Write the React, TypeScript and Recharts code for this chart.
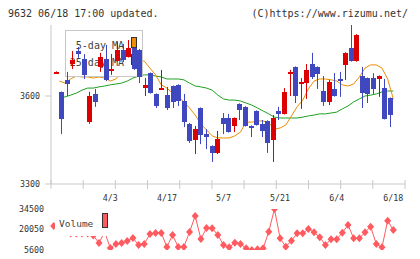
import React from 'react';
import { ComposedChart, LineChart, Line, Bar, XAxis, YAxis } from 'recharts';

// ---- data ----
const openP = [3679, 3614, 3655, 3709, 3753, 3726, 3511, 3607, 3699, 3726, 3685, 3719, 3757, 3733, 3764, 3757, 3627, 3678, 3607, 3624, 3603, 3634, 3638, 3583, 3505, 3450, 3559, 3470, 3430, 3406, 3525, 3525, 3498, 3573, 3563, 3498, 3549, 3505, 3515, 3450, 3549, 3539, 3675, 3699, 3641, 3644, 3709, 3699, 3617, 3580, 3624, 3658, 3706, 3764, 3719, 3668, 3661, 3661, 3658, 3627, 3593];
const highP = [3684, 3615, 3682, 3753, 3767, 3743, 3614, 3624, 3747, 3774, 3743, 3784, 3777, 3791, 3766, 3760, 3661, 3680, 3609, 3689, 3631, 3636, 3640, 3607, 3508, 3498, 3561, 3487, 3432, 3481, 3542, 3539, 3527, 3575, 3565, 3500, 3551, 3518, 3517, 3535, 3563, 3627, 3689, 3701, 3661, 3709, 3747, 3701, 3668, 3655, 3678, 3682, 3749, 3842, 3811, 3699, 3663, 3678, 3670, 3658, 3595];
const lowP = [3677, 3470, 3600, 3692, 3730, 3658, 3505, 3563, 3682, 3651, 3672, 3717, 3716, 3731, 3689, 3644, 3600, 3608, 3559, 3622, 3552, 3559, 3566, 3494, 3440, 3402, 3436, 3419, 3375, 3402, 3470, 3475, 3477, 3518, 3496, 3460, 3499, 3460, 3406, 3375, 3518, 3537, 3600, 3576, 3556, 3590, 3658, 3624, 3566, 3569, 3598, 3597, 3655, 3717, 3717, 3559, 3576, 3607, 3597, 3520, 3494];
const closeP = [3682, 3522, 3641, 3723, 3743, 3672, 3600, 3580, 3733, 3655, 3692, 3757, 3723, 3764, 3692, 3665, 3638, 3610, 3566, 3627, 3559, 3580, 3583, 3511, 3447, 3487, 3467, 3460, 3406, 3453, 3505, 3477, 3525, 3552, 3498, 3491, 3501, 3481, 3440, 3525, 3539, 3614, 3682, 3600, 3648, 3689, 3665, 3675, 3580, 3648, 3600, 3651, 3747, 3719, 3808, 3610, 3607, 3624, 3668, 3522, 3535];
const ma5 = [null, 3651, 3644, 3658, 3668, 3665, 3665, 3661, 3665, 3661, 3651, 3658, 3682, 3702, 3716, 3723, 3719, 3695, 3672, 3638, 3627, 3610, 3597, 3580, 3559, 3535, 3505, 3484, 3464, 3457, 3457, 3457, 3464, 3477, 3511, 3511, 3515, 3515, 3508, 3487, 3491, 3501, 3532, 3563, 3586, 3624, 3651, 3658, 3658, 3655, 3651, 3638, 3634, 3641, 3665, 3695, 3706, 3706, 3695, 3658, 3590];
const ma25 = [null, 3590, 3597, 3603, 3610, 3620, 3627, 3627, 3631, 3634, 3638, 3641, 3644, 3651, 3661, 3668, 3672, 3672, 3668, 3665, 3658, 3658, 3658, 3655, 3644, 3634, 3631, 3627, 3620, 3603, 3590, 3586, 3586, 3583, 3576, 3569, 3559, 3549, 3539, 3528, 3525, 3525, 3525, 3525, 3528, 3532, 3535, 3539, 3539, 3542, 3545, 3556, 3566, 3580, 3590, 3600, 3603, 3607, 3614, 3617, 3617];
const volume = [22500, 21100, 19700, 17230, 17230, 17230, 17230, 15820, 10530, 18290, 7010, 9830, 10530, 11950, 14060, 9130, 9830, 16880, 17590, 17590, 7720, 16180, 7720, 7720, 18290, 29570, 13360, 21110, 20900, 16180, 9130, 7500, 10750, 9830, 6800, 5600, 6090, 6800, 18500, 34500, 13850, 7930, 12160, 17380, 17380, 20400, 18080, 14550, 9130, 13150, 13150, 17800, 23230, 13850, 13850, 18080, 22030, 9830, 7500, 26260, 19700];

const labelIdx = [10, 20, 30, 40, 50, 60];
const labelText = ['4/3', '4/17', '5/7', '5/21', '6/4', '6/18'];
const priceDomain = [3300, 3842];
const priceTicks = [3300, 3600];
const volDomain = [5600, 34500];
const volTicks = [5600, 20050, 34500];
// main x axis (in day-index units) and its evenly spaced tick marks
const xDomain = [-0.985, 62.6];
const gridTicks = [-0.985, 4.796, 10.576, 16.357, 22.137, 27.918, 33.698, 39.479, 45.259, 51.04, 56.82, 62.6];

const rows = openP.map((o, i) => ({
  i,
  o,
  h: highP[i],
  l: lowP[i],
  c: closeP[i],
  ma5: ma5[i],
  ma25: ma25[i],
  v: volume[i],
}));

// ---- styles ----
const MONO = "'DejaVu Sans Mono', monospace";
const RED = '#dd0000';
const BLUE = '#4048c0';
const ORANGE = '#f08c00';
const GREEN = '#1ea01e';
const VOLRED = '#ff5a5f';
const AXIS = '#c8c8c8';
const TXT = '#333333';
const XPAD = { left: 2.7, right: 11.7 };

function Candle(props: any) {
  const { x, y, width, height, payload } = props;
  if (x == null || y == null || !payload) return null;
  const { o, h, l, c } = payload;
  const top = Math.min(y, y + height);
  const bot = Math.max(y, y + height);
  const span = h - l;
  const py = (v: number) => (span > 0 ? top + ((h - v) / span) * (bot - top) : top);
  const cx = Math.round(x + width / 2 - 0.5) + 0.5;
  const color = c > o ? RED : BLUE;
  const bt = Math.round(py(Math.max(o, c)));
  let bh = Math.round(py(Math.min(o, c))) - bt;
  if (bh < 2) bh = 2;
  return (
    <g>
      <line x1={cx} x2={cx} y1={py(h)} y2={py(l)} stroke={color} strokeWidth={1} />
      <rect x={cx - 2.5} y={bt} width={5} height={bh} fill={color} />
    </g>
  );
}

function DateTick(props: any) {
  const { x, y, payload } = props;
  const k = labelIdx.indexOf(payload.value);
  return (
    <text x={x} y={y - 8} textAnchor="middle" fontSize={8.3} fontFamily={MONO} fill={TXT}>
      {k >= 0 ? labelText[k] : ''}
    </text>
  );
}

function Diamond(props: any) {
  const { cx, cy } = props;
  if (cx == null || cy == null) return null;
  return (
    <polygon
      points={`${cx},${cy - 4} ${cx + 3.5},${cy} ${cx},${cy + 4} ${cx - 3.5},${cy}`}
      fill={VOLRED}
    />
  );
}

const abs: React.CSSProperties = { position: 'absolute', left: 0, top: 0 };

export default function App() {
  return (
    <div style={{ position: 'absolute', left: 0, top: 0, width: 420, height: 259, background: '#fff', overflow: 'hidden' }}>
      {/* moving averages (bottom layer) */}
      <div style={abs}>
        <LineChart width={420} height={200} data={rows} margin={{ top: 25, right: 15, bottom: 16, left: 51 }}>
          <XAxis dataKey="i" type="category" padding={XPAD} hide />
          <YAxis domain={priceDomain} hide allowDataOverflow />
          <Line dataKey="ma25" stroke={GREEN} strokeWidth={1} dot={false} isAnimationActive={false} />
          <Line dataKey="ma5" stroke={ORANGE} strokeWidth={1} dot={false} isAnimationActive={false} />
        </LineChart>
      </div>

      {/* legend (between lines and candles) */}
      <svg width={420} height={259} style={abs}>
        <rect x={65.5} y={30.5} width={77} height={46} fill="#fff" stroke={AXIS} />
        <text x={124} y={48.5} textAnchor="end" fontSize={10} fontFamily={MONO} fill="#444">5-day MA</text>
        <rect x={131.5} y={37.5} width={5} height={10} fill={ORANGE} stroke="#333" />
        <text x={124} y={65.5} textAnchor="end" fontSize={10} fontFamily={MONO} fill="#444">25-day MA</text>
        <rect x={131.5} y={54.5} width={5} height={10} fill={GREEN} stroke="#333" />
      </svg>

      {/* candles + axes */}
      <div style={abs}>
        <ComposedChart width={420} height={200} data={rows} margin={{ top: 25, right: 15, bottom: 15, left: 0 }}>
          <XAxis
            dataKey="i"
            type="number"
            domain={xDomain}
            ticks={gridTicks}
            interval={0}
            height={1}
            stroke={AXIS}
            tickFormatter={() => ''}
            tickSize={9}
            tickLine={{ stroke: AXIS, transform: 'translate(0,-4)' }}
            allowDataOverflow
          />
          <YAxis
            domain={priceDomain}
            ticks={priceTicks}
            interval={0}
            width={51}
            stroke={AXIS}
            tickSize={6}
            tickMargin={5}
            tick={{ fill: TXT, fontSize: 8.3, fontFamily: MONO }}
            allowDataOverflow
          />
          <Bar
            dataKey={(d: any) => [d.l, d.h]}
            barSize={5}
            shape={(p: any) => <Candle {...p} />}
            isAnimationActive={false}
          />
        </ComposedChart>
      </div>

      {/* volume */}
      <div style={{ position: 'absolute', left: 0, top: 185 }}>
        <LineChart width={420} height={74} data={rows} margin={{ top: 0, right: 15, bottom: 9, left: 0 }}>
          <XAxis
            dataKey="i"
            type="category"
            orientation="top"
            padding={XPAD}
            height={24}
            ticks={labelIdx}
            interval={0}
            axisLine={false}
            tickLine={false}
            tickSize={0}
            tickMargin={0}
            tick={(p: any) => <DateTick {...p} />}
          />
          <YAxis
            domain={volDomain}
            ticks={volTicks}
            interval={0}
            width={51}
            axisLine={false}
            stroke="none"
            tickSize={5}
            tickMargin={2}
            tick={{ fill: TXT, fontSize: 8.3, fontFamily: MONO }}
            allowDataOverflow
          />
          <Line
            dataKey="v"
            stroke={VOLRED}
            strokeWidth={1}
            dot={(p: any) => <Diamond key={`d${p.index}`} {...p} />}
            isAnimationActive={false}
          />
        </LineChart>
      </div>

      {/* volume legend + header */}
      <svg width={420} height={259} style={abs}>
        <rect x={55} y={204} width={56} height={32} fill="#fff" />
        <text x={59} y={227} fontSize={9.5} fontFamily={MONO} fill="#444">Volume</text>
        <rect x={102.5} y={213.5} width={5} height={14} fill={VOLRED} stroke="#333" />
        <text x={8} y={17} fontSize={10} fontFamily={MONO} fill={TXT}>9632 06/18 17:00 updated.</text>
        <text x={408} y={17} textAnchor="end" fontSize={10} fontFamily={MONO} fill={TXT}>(C)https://www.rizumu.net/</text>
      </svg>
    </div>
  );
}
